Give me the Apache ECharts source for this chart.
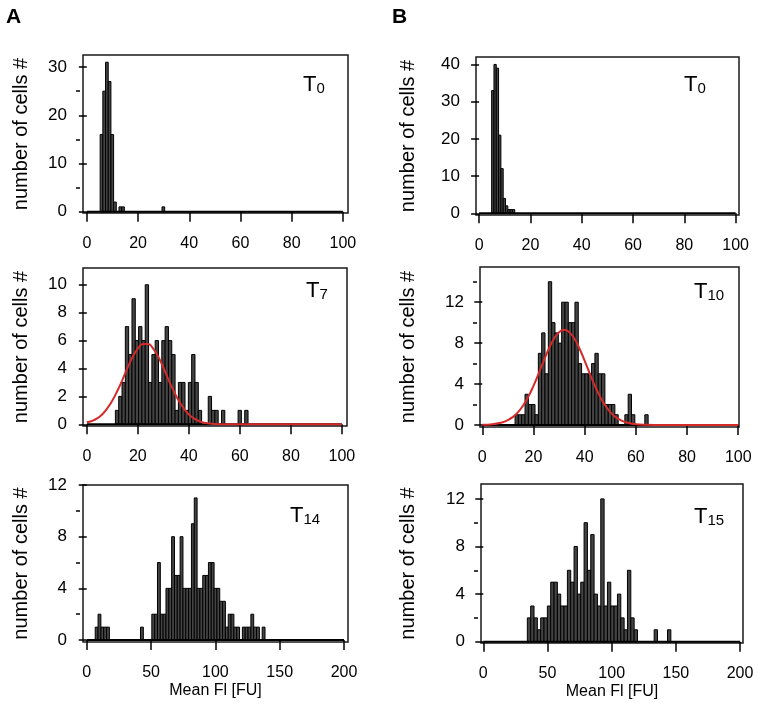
<!DOCTYPE html>
<html><head><meta charset="utf-8">
<script src="https://cdn.jsdelivr.net/npm/echarts@6/dist/echarts.min.js"></script>
<style>html,body{margin:0;padding:0;background:#fff}#c{width:758px;height:712px}</style>
</head><body><div id="c"></div>
<script>
const FONT = '"Liberation Sans", Arial, Helvetica, sans-serif';

// ---------------- DATA ----------------
const xTicks100 = [0, 20, 40, 60, 80, 100];
const xTicks200 = [0, 50, 100, 150, 200];

const yTicksA1 = [0, 10, 20, 30];   const yMinorA1 = [5, 15, 25];
const yTicksA2 = [0, 2, 4, 6, 8, 10]; const yMinorA2 = [];
const yTicksA3 = [0, 4, 8, 12];     const yMinorA3 = [2, 6, 10];
const yTicksB1 = [0, 10, 20, 30, 40]; const yMinorB1 = [];
const yTicksB2 = [0, 4, 8, 12];     const yMinorB2 = [2, 6, 10, 14];
const yTicksB3 = [0, 4, 8, 12];     const yMinorB3 = [2, 6, 10];

const panelSubscripts = ['0', '7', '14', '0', '10', '15'];
const yTitle = 'number of cells #';
const xTitle = 'Mean Fl [FU]';

// histogram bins: first bin edge, bin width, counts
const binStartA1 = 5.2, binWidthA1 = 1.05;
const countsA1 = [16, 25, 31, 27, 16, 2, 0, 1, 1, 0, 0, 0, 0, 0, 0, 0, 0, 0, 0, 0, 0, 0, 0, 1];

const binStartA2 = 11.2, binWidthA2 = 1.3;
const countsA2 = [1, 2, 3, 7, 5, 9, 6, 7, 6, 10, 3, 5, 6, 3, 6, 7, 6, 5, 1, 3,
                  3, 1, 3, 5, 3, 1, 0, 0, 2, 1, 1, 0, 1, 0, 0, 0, 0, 1, 0, 1];

const binStartA3 = 6.6, binWidthA3 = 2.2;
const countsA3 = [1, 2, 1, 1, 1, 0, 0, 0, 0, 0, 0, 0, 0, 0, 0, 0, 1, 0, 0, 0,
                  2, 2, 6, 2, 2, 4, 4, 8, 5, 5, 8, 4, 4, 4, 9, 11, 4, 4, 5, 5,
                  6, 6, 4, 4, 3, 3, 1, 2, 2, 1, 1, 0, 1, 1, 1, 2, 1, 1, 0, 1];

const binStartB1 = 4.9, binWidthB1 = 0.9;
const countsB1 = [33, 40, 39, 21, 12, 4, 2, 1, 1, 1];

const binStartB2 = 12.8, binWidthB2 = 1.3;
const countsB2 = [1, 1, 1, 3, 2, 2, 1, 7, 9, 5, 14, 10, 9, 8, 12, 12, 10, 10, 12, 6,
                  5, 5, 5, 6, 7, 5, 5, 2, 2, 2, 1, 0, 0, 1, 3, 1, 0, 0, 0, 1];

const binStartB3 = 34.3, binWidthB3 = 2.6;
const countsB3 = [2, 3, 2, 1, 2, 2, 3, 5, 5, 4, 3, 3, 6, 5, 8, 4, 5, 10, 6, 9,
                  4, 3, 12, 3, 5, 3, 3, 4, 2, 1, 6, 2, 1, 0, 0, 0, 0, 0, 1, 0, 0, 0, 1];

// fitted curves
const fitA2X = [0, 2, 4, 6, 8, 10, 12, 14, 16, 18, 20, 22, 24, 26, 28, 30, 32, 34, 36, 38, 40, 42, 44, 46, 50, 56, 70, 100];
const fitA2Y = [0.15, 0.24, 0.42, 0.71, 1.14, 1.7, 2.41, 3.2, 4.07, 4.84, 5.43, 5.76, 5.76, 5.43, 4.84, 4.07, 3.2, 2.41, 1.7, 1.14, 0.71, 0.42, 0.24, 0.12, 0.03, 0, 0, 0];
const fitB2X = [0, 4, 8, 10, 12, 14, 16, 18, 20, 22, 24, 26, 28, 30, 32, 34, 36, 38, 40, 42, 44, 46, 48, 50, 52, 54, 56, 60, 64, 70, 100];
const fitB2Y = [0.02, 0.07, 0.27, 0.47, 0.79, 1.26, 1.91, 2.77, 3.82, 5.02, 6.27, 7.45, 8.42, 9.07, 9.3, 9.07, 8.42, 7.45, 6.27, 5.02, 3.82, 2.77, 1.91, 1.26, 0.79, 0.47, 0.27, 0.07, 0.02, 0, 0];

// ---------------- LAYOUT ----------------
const panels = [
  {grid:{left:83, top:55, width:265, height:158}, x:[-1.5,102], y:[-0.27,32.5], xt:xTicks100, yt:yTicksA1, ym:yMinorA1,
   bins:[binStartA1, binWidthA1, countsA1], nameGap:49, lab:[303,72], xname:false},
  {grid:{left:83, top:268, width:264, height:158}, x:[-1.5,102], y:[-0.12,11.2], xt:xTicks100, yt:yTicksA2, ym:yMinorA2,
   bins:[binStartA2, binWidthA2, countsA2], fit:[fitA2X, fitA2Y], nameGap:49, lab:[306,278], xname:false},
  {grid:{left:83, top:485, width:265, height:157}, x:[-2.9,203.1], y:[-0.15,12.0], xt:xTicks200, yt:yTicksA3, ym:yMinorA3,
   bins:[binStartA3, binWidthA3, countsA3], nameGap:49, lab:[290,503], xname:true},
  {grid:{left:476, top:57, width:263, height:158}, x:[-1.2,101.3], y:[-0.46,42], xt:xTicks100, yt:yTicksB1, ym:yMinorB1,
   bins:[binStartB1, binWidthB1, countsB1], nameGap:55, lab:[684,72], xname:false},
  {grid:{left:480, top:267, width:259, height:160}, x:[-0.9,100.3], y:[-0.2,15.44], xt:xTicks100, yt:yTicksB2, ym:yMinorB2,
   bins:[binStartB2, binWidthB2, countsB2], fit:[fitB2X, fitB2Y], nameGap:59, lab:[694,279], xname:false},
  {grid:{left:481, top:484, width:262, height:159}, x:[-1.8,202.3], y:[-0.11,13.25], xt:xTicks200, yt:yTicksB3, ym:yMinorB3,
   bins:[binStartB3, binWidthB3, countsB3], nameGap:60, lab:[694,504], xname:true}
];

function histData(start, width, counts) {
  const out = [];
  counts.forEach((c, i) => { if (c > 0) out.push([start + i * width, start + (i + 1) * width, c]); });
  return out;
}
function renderHist(params, api) {
  const p0 = api.coord([api.value(0), api.value(2)]);
  const p1 = api.coord([api.value(1), 0]);
  return {type:'rect', shape:{x:p0[0], y:p0[1], width:p1[0]-p0[0], height:p1[1]-p0[1]},
          style:{fill:'#444', stroke:'#000', lineWidth:1}};
}

const grids = [], xAxes = [], yAxes = [], series = [], graphics = [];
panels.forEach((p, i) => {
  grids.push(Object.assign({show:true, borderColor:'#1a1a1a', borderWidth:1.5, backgroundColor:'rgba(0,0,0,0)'}, p.grid));
  xAxes.push({gridIndex:i, type:'value', min:p.x[0], max:p.x[1], position:'bottom', offset:3,
    axisLine:{show:false}, splitLine:{show:false},
    axisTick:{show:true, length:10, customValues:p.xt, lineStyle:{color:'#000', width:1.5}},
    axisLabel:{customValues:p.xt, margin:20, fontSize:16, color:'#000', fontFamily:FONT},
    name: p.xname ? xTitle : '', nameLocation:'middle', nameGap:38,
    nameTextStyle:{fontSize:16, color:'#000', fontFamily:FONT}});
  const yi = yAxes.length;
  yAxes.push({gridIndex:i, type:'value', min:p.y[0], max:p.y[1], position:'left', offset:3,
    axisLine:{show:false}, splitLine:{show:false},
    axisTick:{show:true, length:8, customValues:p.yt, lineStyle:{color:'#000', width:1.5}},
    axisLabel:{customValues:p.yt, margin:13, fontSize:17, color:'#000', fontFamily:FONT},
    name:yTitle, nameLocation:'middle', nameGap:p.nameGap,
    nameTextStyle:{fontSize:20, color:'#000', fontFamily:FONT}});
  if (p.ym.length) {
    yAxes.push({gridIndex:i, type:'value', min:p.y[0], max:p.y[1], position:'left', offset:3,
      axisLine:{show:false}, splitLine:{show:false},
      axisTick:{show:true, length:4, customValues:p.ym, lineStyle:{color:'#000', width:1.5}},
      axisLabel:{show:false}});
  }
  series.push({type:'custom', coordinateSystem:'cartesian2d', xAxisIndex:i, yAxisIndex:yi,
    data:histData(p.bins[0], p.bins[1], p.bins[2]), encode:{x:[0,1], y:2}, renderItem:renderHist, z:2, silent:true});
  series.push({type:'line', xAxisIndex:i, yAxisIndex:yi, data:[[p.xt[0],0],[p.xt[p.xt.length-1],0]],
    symbol:'none', lineStyle:{color:'#000', width:2}, z:3, silent:true});
  if (p.fit) {
    series.push({type:'line', xAxisIndex:i, yAxisIndex:yi, data:p.fit[0].map((x, k) => [x, p.fit[1][k]]),
      smooth:true, symbol:'none', lineStyle:{color:'#d42a2a', width:2}, z:4, silent:true});
  }
  graphics.push({type:'text', x:p.lab[0], y:p.lab[1], style:{
    text:'{t|T}{s|' + panelSubscripts[i] + '}', align:'left', verticalAlign:'top',
    rich:{t:{fontSize:22, lineHeight:24, verticalAlign:'bottom', fontFamily:FONT, fill:'#000'},
          s:{fontSize:15, lineHeight:17, verticalAlign:'bottom', fontFamily:FONT, fill:'#000'}}}});
});
graphics.push({type:'text', x:6, y:7, style:{text:'A', fontSize:21, fontWeight:'bold', fontFamily:FONT, fill:'#000'}});
graphics.push({type:'text', x:392, y:7, style:{text:'B', fontSize:21, fontWeight:'bold', fontFamily:FONT, fill:'#000'}});

const chart = echarts.init(document.getElementById('c'), null, {renderer:'canvas'});
chart.setOption({animation:false, backgroundColor:'#fff', grid:grids, xAxis:xAxes, yAxis:yAxes, series:series, graphic:graphics});
</script></body></html>
